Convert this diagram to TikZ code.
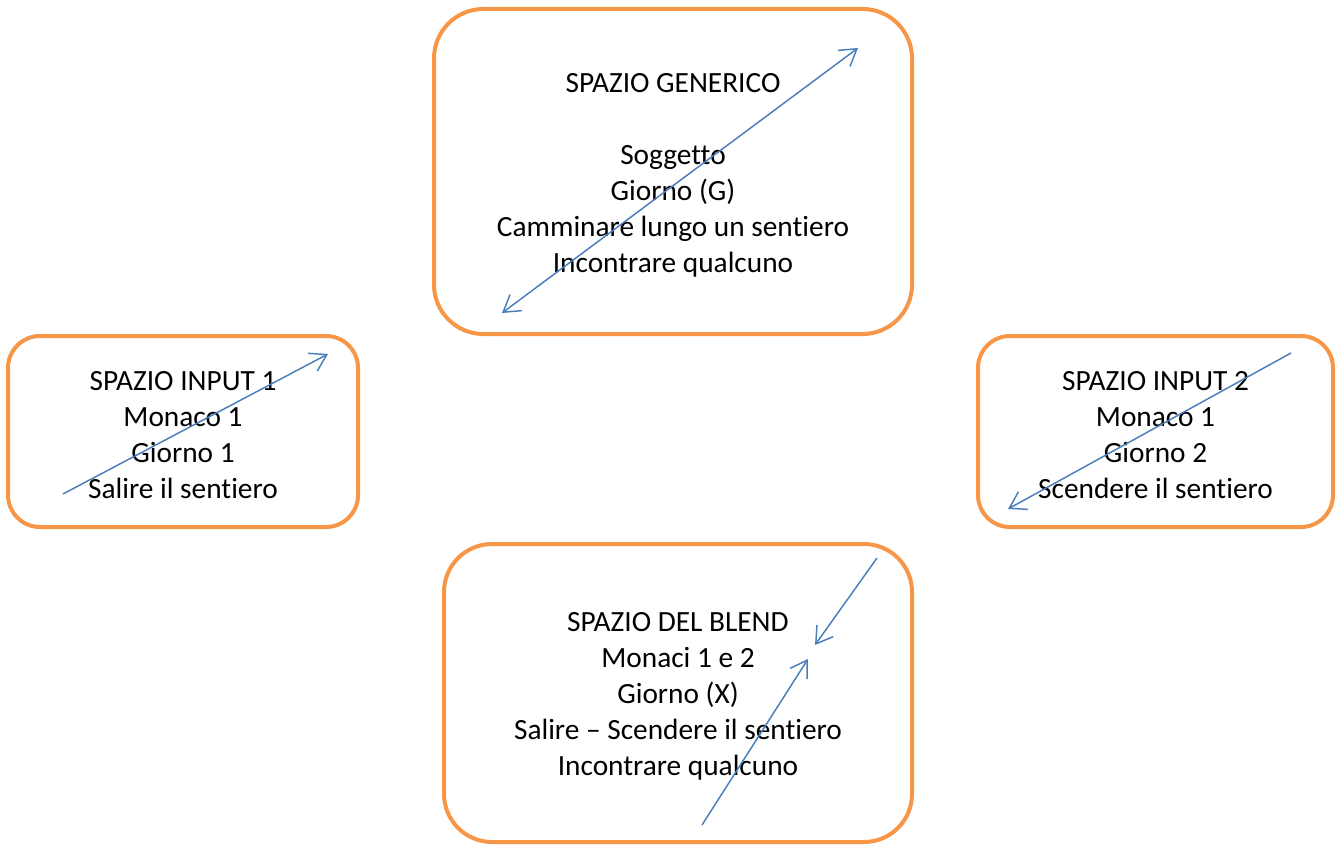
\documentclass[tikz,border=0pt]{standalone}
\usepackage{fontspec}
\setmainfont[Ligatures={NoCommon,NoRare,NoContextual}]{Carlito}
\usepackage{xcolor}
\usetikzlibrary{arrows.meta}
\definecolor{boxorange}{HTML}{F79646}
\definecolor{arrowblue}{HTML}{4A7EBB}
\newcommand{\primariga}{\rule{0pt}{19.5pt}}

\begin{document}
\begin{tikzpicture}[x=0.75pt,y=-0.75pt,
    spazio/.style={draw=boxorange, line width=3pt, align=center, inner sep=0pt,
      font=\fontsize{22}{27}\selectfont},
    freccia/.style={arrowblue, line width=1.1pt},
    >={Straight Barb[length=12pt,width=15pt]}]
      \useasboundingbox (0,0) rectangle (1341,845);

      % Generic space
      \node[spazio, minimum width=358.5pt, minimum height=243.75pt, rounded corners=37pt]
        (generico) at (673,171.5)
        {\primariga SPAZIO GENERICO\\[27pt]Soggetto\\Giorno (G)\\Camminare lungo un sentiero\\Incontrare qualcuno};
      \coordinate (gen a) at (502,313);
      \coordinate (gen b) at (858,48);
      \draw[freccia, <->] (gen a) -- (gen b);

      % Input spaces
      \node[spazio, minimum width=262.5pt, minimum height=143.25pt, rounded corners=24pt]
        (input1) at (183,431.5)
        {\primariga SPAZIO INPUT 1\\Monaco 1\\Giorno 1\\Salire il sentiero};
      \coordinate (in1 a) at (63,494);
      \coordinate (in1 b) at (328,354);
      \draw[freccia, ->] (in1 a) -- (in1 b);

      \node[spazio, minimum width=266.25pt, minimum height=143.25pt, rounded corners=24pt]
        (input2) at (1155.5,431.5)
        {\primariga SPAZIO INPUT 2\\Monaco 1\\Giorno 2\\Scendere il sentiero};
      \coordinate (in2 a) at (1291,353);
      \coordinate (in2 b) at (1008,509);
      \draw[freccia, ->] (in2 a) -- (in2 b);

      % Blend space
      \node[spazio, minimum width=351pt, minimum height=223.5pt, rounded corners=36pt]
        (blend) at (678,693)
        {\primariga SPAZIO DEL BLEND\\Monaci 1 e 2\\Giorno (X)\\Salire -- Scendere il sentiero\\Incontrare qualcuno};
      \coordinate (bl a) at (877,558);
      \coordinate (bl b) at (815,645);
      \coordinate (bl c) at (702,825);
      \coordinate (bl d) at (808,659);
      \draw[freccia, ->] (bl a) -- (bl b);
      \draw[freccia, ->] (bl c) -- (bl d);
    \end{tikzpicture}
\end{document}
